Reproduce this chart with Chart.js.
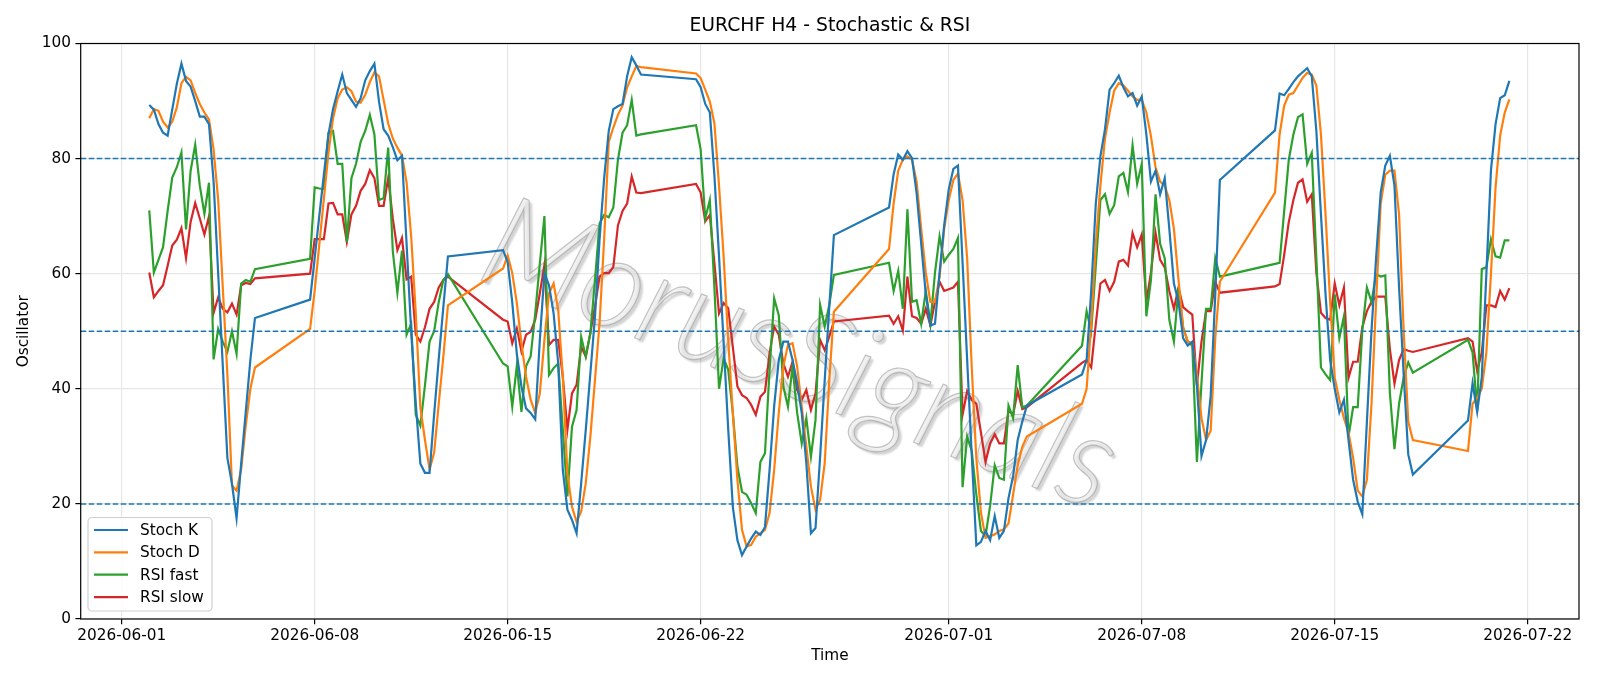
<!DOCTYPE html>
<html>
<head>
<meta charset="utf-8">
<script src="https://cdn.jsdelivr.net/npm/chart.js@4.4.1/dist/chart.umd.min.js"></script>
<style>
  html, body { margin: 0; padding: 0; background: #fff; }
  canvas { display: block; }
</style>
</head>
<body>
<canvas id="myChart" width="1600" height="686"></canvas>
<script>
// H4 bars, 2026-06-02 00:00 to 2026-07-21 08:00 (weekdays + the Sunday 20:00 open bar)
const firstBar = Date.UTC(2026, 5, 2, 0);
const lastBar = Date.UTC(2026, 6, 21, 8);
const origin = Date.UTC(2026, 5, 1);
// date ticks (days since 06-01): 06-01, 06-08, 06-15, 06-22, 07-01, 07-08, 07-15, 07-22
const tickDays = [0, 7, 14, 21, 30, 37, 44, 51];
const levels = [20, 50, 80];

const stochK = [
  // 06-02 .. 06-05
  89.3, 88.5, 86, 84.5, 84, 88.5, 93, 96.5, 93.5, 92.5, 90, 87.3, 87.3, 86, 76, 60, 44, 28, 23.5, 17.5, 27, 36, 45, 52.3,
  // 06-07 .. 06-12
  55.5, 62.7, 70, 77.2, 84.2, 88.6, 91.7, 94.6, 91.4, 90.2, 89, 90.5, 93.6, 95.2, 96.5, 89.9, 85.1, 84, 82,
  79.7, 80.5, 65.2, 50, 37.4, 27, 25.4, 25.4, 35.6, 45.2, 54.2, 63,
  // 06-14 .. 06-19
  64.1, 62, 55, 46, 40.4, 36.6, 35.8, 34.7, 48.5, 60.1, 58, 53.1, 44.4, 25.9, 19, 17.2, 14.9, 23.6, 32.9,
  42.7, 52.5, 66, 76.6, 84.8, 88.6, 89.1, 89.5, 94.3, 97.6, 96.2, 94.6,
  // 06-21 .. 06-26
  93.8, 92.4, 89.5, 88, 77, 63, 48, 33, 19.5, 13.7, 11.1, 12.6, 14, 15.2, 14.6, 16, 25.9, 37, 45,
  48.2, 48.2, 45, 41, 35.8, 27.1, 14.9, 15.8, 28.2, 41.5, 54.3, 66.7,
  // 06-28 .. 07-03
  71.5, 77.3, 80.7, 79.8, 81.3, 80.1, 74, 65.2, 56.4, 51, 51.3, 60.2, 68.4, 74.7, 78.2, 78.8, 62, 45, 28.5,
  12.8, 13.4, 15.3, 13.7, 17.9, 14.1, 15.3, 21, 24.8, 31.1, 34.3, 37.1,
  // 07-05 .. 07-10
  42.5, 45, 57, 72.2, 80.4, 85.1, 92, 93.1, 94.4, 92.4, 90.8, 91.4, 89.2, 90.8, 84.2, 76, 77.9, 73.8, 76.6,
  67.8, 58.3, 55.1, 48.8, 47.5, 48.2, 40.6, 28.3, 31.1, 38.7, 56.4, 76.3,
  // 07-12 .. 07-17
  84.9, 91.3, 91, 92.1, 93.3, 94.3, 95, 95.7, 94.3, 84.8, 70.3, 56.4, 45, 40, 35.9, 38.1, 31.1, 24.2, 20.4,
  18.2, 34.3, 50.1, 62.7, 74.1, 78.8, 80.5, 75.3, 57.6, 42.5, 28.6, 25.1,
  // 07-19 .. 07-21
  34.5, 41, 36, 42, 60, 78, 86, 90.5, 91, 93.5
];

const stochD = [
  87, 88.6, 88.3, 86.4, 85.4, 86.4, 88.9, 93.1, 94.2, 93.6, 91.4, 89.5, 88, 86.8, 81.6, 72.8, 57.6, 42.5, 23.2, 22.3, 26, 33.6, 40, 43.7,
  50.4, 57, 65, 73, 81, 87, 90.5, 92, 92.4, 91.7, 89.9, 89.7, 91.1, 93.3, 95, 94.3, 90.2, 86.1, 83.5,
  81.9, 80.5, 75.9, 66.5, 53.2, 36.8, 31.1, 26, 28.9, 37.4, 45.6, 54.5,
  60.9, 63.2, 60.1, 54.9, 47.9, 42.1, 38.1, 35.8, 39.2, 48.5, 56.6, 58.3, 53.7, 42.1, 25.3, 19.5, 16.9, 18.7, 23.6,
  31.7, 41.5, 51.4, 66, 82.9, 85.4, 87.6, 89.2, 92.4, 94.3, 96.1, 95.9,
  94.8, 94, 92, 89.9, 86.1, 75.3, 63, 48.5, 35.8, 24.2, 15.5, 12.6, 12.9, 14.3, 14.9, 15.5, 18.4, 25.9, 35.8,
  43.9, 47.6, 47.9, 43.9, 36.9, 30, 23, 19, 20.7, 27.1, 41.5, 53.4,
  64.3, 72.2, 77.9, 79.8, 80.4, 79.8, 76, 67.8, 60.2, 55.1, 55.1, 59.5, 67.8, 72.8, 76.3, 77.4, 72.8, 62.7, 43.7,
  27.9, 18.5, 14.1, 14.4, 14.7, 15.3, 15.6, 16.6, 21.6, 26.7, 29.9, 31.7,
  37.4, 40, 51.3, 65.2, 75.3, 83.5, 88, 91.8, 93.1, 92.7, 91.8, 90.8, 90.2, 90.2, 88, 83.9, 78.5, 76, 75.3,
  72.8, 67.8, 58.9, 50.7, 48.2, 47.9, 42.5, 34.9, 31.1, 32.7, 48.8, 58.6,
  74.1, 84.2, 89.2, 91.1, 91.4, 92.7, 94, 94.9, 94.6, 92.7, 84.2, 70.3, 55.1, 41.9, 38.1, 34.9, 32.4, 28, 22.3,
  21.3, 24.2, 37.4, 55.1, 72.2, 77.2, 77.9, 77.9, 70.3, 50.1, 34.3, 31.1,
  29.2, 37.4, 38.4, 40, 46.3, 60, 75, 84, 88, 90.3
];

const rsiFast = [
  71, 60.2, 62.4, 64.6, 70.9, 76.7, 78.5, 81.1, 67.7, 77.9, 82.4, 75.3, 70.4, 75.8, 45.1, 50.4, 48.2, 46.4, 50, 46.1, 58.3, 58.9, 58.6, 60.8,
  62.6, 75, 74.8, 74.7, 84.5, 84.8, 79.1, 79.1, 65.5, 76.6, 79.1, 82.9, 84.8, 87.6, 84.2, 72.8, 73.1, 81.9, 63.9,
  56.7, 64, 49.4, 51.3, 35.5, 33.6, 40.6, 48.2, 50, 55.1, 58.9, 59.9,
  44.4, 43.9, 36.9, 44.1, 36, 43.9, 45.6, 53.1, 61.8, 70, 42.4, 43.6, 44.4, 32.9, 21.3, 33.4, 36.3, 49, 45.6,
  49.7, 58.9, 68.7, 70.2, 69.8, 71.5, 79.8, 84.5, 85.8, 90.2, 84, 84.2,
  85.8, 81.6, 69.6, 72.8, 57.5, 40, 45.3, 43.3, 35.8, 26.5, 22.1, 21.6, 20.1, 18.4, 27.3, 28.8, 43.3, 55.7, 52.8,
  40.4, 36.9, 43.9, 35.8, 30.5, 34.9, 28.2, 34.6, 54.6, 50.8, 54.6, 59.8,
  61.9, 57, 60.5, 53.9, 71.2, 55.1, 55.4, 51.3, 57, 51.3, 60.2, 66.5, 62.1, 63.3, 64.3, 66.2, 22.9, 31.7, 29.2,
  21.6, 15.3, 14.4, 19.7, 26.7, 24.5, 24.2, 37.1, 34.9, 44.1, 36.8, 37.1,
  47.5, 53.5, 50, 61.4, 72.8, 73.8, 70.4, 71.9, 76.9, 77.5, 74.2, 82.3, 75.6, 79.1, 52.6, 58.9, 73.8, 65.2, 62.7,
  52, 48.2, 57.6, 50.7, 48.2, 47.5, 27.3, 41, 53.9, 53.9, 62.7, 59.5,
  61.7, 61.9, 70.9, 79.8, 84.2, 87.2, 87.7, 79.1, 81, 62.7, 43.7, 42.5, 41.5, 56.4, 48.8, 52.6, 31.7, 36.8, 36.8,
  50.1, 57.6, 55.1, 59.9, 59.5, 59.7, 39.3, 29.5, 37.4, 42, 44.6, 42.8,
  48.5, 46.3, 36.2, 60.8, 61.1, 66, 63, 62.8, 65.8, 65.8
];

const rsiSlow = [
  60.2, 55.9, 57, 58, 61.4, 64.9, 65.9, 67.9, 62.7, 69, 72.3, 69.6, 66.8, 70, 53.2, 55.9, 53.9, 53.3, 54.8, 52.9, 58, 58.4, 58.2, 59.2,
  60, 66, 66, 66, 72.2, 72.3, 70.3, 70.3, 65.5, 70.3, 71.8, 74.4, 75.6, 78, 76.6, 71.8, 71.8, 76.6, 69.6,
  64.1, 66.2, 59, 59.5, 49.4, 48.2, 50.7, 53.9, 55.1, 57.6, 58.9, 59.5,
  52, 51.7, 47.9, 50.5, 46.5, 49.4, 49.9, 52, 56.6, 61.5, 47.6, 48.5, 48.5, 42.1, 32.9, 39.2, 40.7, 47.3, 45.6,
  49.7, 54.3, 59.5, 60.1, 60.1, 61.2, 68.4, 70.9, 72.2, 76.9, 74.1, 74,
  75.6, 74.1, 69.1, 70.2, 61.8, 53.1, 54.9, 54, 47.3, 40.4, 38.9, 38.4, 37.2, 35.5, 38.6, 39.5, 46.2, 50.8, 49.4,
  44.4, 42.1, 44.7, 39.8, 38.1, 39.8, 36.3, 39.2, 48.5, 46.7, 49.1, 51.7,
  52.7, 51.3, 52.6, 50.1, 59.5, 52.6, 52.3, 51.3, 53.9, 51, 55.1, 58.6, 57, 57.3, 57.6, 58.6, 35.5, 39.6, 38.1,
  37.4, 32.4, 27.3, 30.5, 32.1, 30.5, 30.5, 36.2, 35.5, 39.6, 36.5, 36.8,
  44.5, 45, 43.7, 51.3, 58.3, 58.9, 57, 58.6, 62.1, 62.4, 61.4, 67.1, 64.6, 66.8, 55.1, 60.2, 67.1, 62.4, 61.1,
  57, 53.9, 57.6, 54.2, 53.5, 52.9, 40.6, 48.2, 53.5, 53.5, 58.6, 56.7,
  57.8, 58.2, 63.3, 69, 72.8, 75.8, 76.4, 72.5, 73.8, 60.2, 53.2, 52.3, 52, 58.3, 54.5, 57.6, 41.9, 44.7, 44.7,
  50.7, 53.5, 55.1, 56, 56, 56, 46.9, 40.9, 45, 46.9, 46.6, 46.4,
  48.8, 48.2, 43.1, 46.3, 54.5, 54.5, 54.2, 57, 55.5, 57.5
];

// bar times in days since 2026-06-01
const times = [];
for (let t = firstBar; t <= lastBar; t += 4 * 3600000) {
  const d = new Date(t);
  const dow = d.getUTCDay();
  const h = d.getUTCHours();
  if ((dow >= 1 && dow <= 5) || (dow === 0 && h === 20)) {
    times.push((t - origin) / 86400000);
  }
}

function dayLabel(v) {
  return new Date(origin + v * 86400000).toISOString().slice(0, 10);
}

function points(arr) {
  return times.map((x, i) => ({ x: x, y: arr[i] }));
}

const FONT = "'DejaVu Sans', sans-serif";

var series = [
  { label: "Stoch K", data: stochK, color: "#1f77b4" },
  { label: "Stoch D", data: stochD, color: "#ff7f0e" },
  { label: "RSI fast", data: rsiFast, color: "#2ca02c" },
  { label: "RSI slow", data: rsiSlow, color: "#d62728" },
];

// title, watermark, reference levels, frame and legend drawn on the canvas
var extras = {
  id: "extras",
  beforeDatasetsDraw(chart) {
    const ctx = chart.ctx;
    const a = chart.chartArea;
    ctx.save();
    ctx.fillStyle = "#000";
    ctx.font = "18.8px " + FONT;
    ctx.textAlign = "center";
    ctx.textBaseline = "middle";
    ctx.fillText("EURCHF H4 - Stochastic & RSI", (a.left + a.right) / 2, 26);

    ctx.beginPath();
    ctx.rect(a.left, a.top, a.right - a.left, a.bottom - a.top);
    ctx.clip();
    ctx.translate(800, 355);
    ctx.rotate(20.5 * Math.PI / 180);
    ctx.font = "italic 300 130px Lato, 'DejaVu Sans', sans-serif";
    const w = ctx.measureText("MorusSignals").width;
    ctx.scale(665 / w, 1);
    ctx.shadowColor = "rgba(0,0,0,0.25)";
    ctx.shadowOffsetX = 3;
    ctx.shadowOffsetY = 3;
    ctx.shadowBlur = 2;
    ctx.fillStyle = "rgba(235,235,235,0.7)";
    ctx.fillText("MorusSignals", 0, 0);
    ctx.shadowColor = "transparent";
    ctx.lineWidth = 1.2;
    ctx.strokeStyle = "rgba(150,150,150,0.55)";
    ctx.strokeText("MorusSignals", 0, 0);
    ctx.restore();
  },
  afterDatasetsDraw(chart) {
    const ctx = chart.ctx;
    const a = chart.chartArea;
    const y = chart.scales.y;
    ctx.save();
    ctx.strokeStyle = "#1f77b4";
    ctx.lineWidth = 1.5;
    ctx.setLineDash([5.6, 2.4]);
    levels.forEach(function (v) {
      const py = y.getPixelForValue(v);
      ctx.beginPath();
      ctx.moveTo(a.left, py);
      ctx.lineTo(a.right, py);
      ctx.stroke();
    });
    ctx.setLineDash([]);
    ctx.strokeStyle = "#000";
    ctx.lineWidth = 1.2;
    ctx.strokeRect(a.left, a.top, a.right - a.left, a.bottom - a.top);

    // legend, lower left
    const bx = 88, by = 517.5, bw = 124, bh = 93.5, r = 4;
    ctx.beginPath();
    ctx.moveTo(bx + r, by);
    ctx.arcTo(bx + bw, by, bx + bw, by + bh, r);
    ctx.arcTo(bx + bw, by + bh, bx, by + bh, r);
    ctx.arcTo(bx, by + bh, bx, by, r);
    ctx.arcTo(bx, by, bx + bw, by, r);
    ctx.closePath();
    ctx.fillStyle = "rgba(255,255,255,0.8)";
    ctx.fill();
    ctx.strokeStyle = "#d0d0d0";
    ctx.lineWidth = 1.2;
    ctx.stroke();
    ctx.font = "15.3px " + FONT;
    ctx.textBaseline = "middle";
    ctx.textAlign = "left";
    series.forEach(function (s, i) {
      const ly = 530 + i * 22.35;
      ctx.strokeStyle = s.color;
      ctx.lineWidth = 2.2;
      ctx.beginPath();
      ctx.moveTo(94, ly);
      ctx.lineTo(128, ly);
      ctx.stroke();
      ctx.fillStyle = "#000";
      ctx.fillText(s.label, 140, ly + 1);
    });
    ctx.restore();
  },
};

var config = {
  type: "line",
  data: {
    datasets: series.map(function (s) {
      return {
        label: s.label,
        data: points(s.data),
        borderColor: s.color,
        backgroundColor: s.color,
        borderWidth: 2.2,
        pointRadius: 0,
        tension: 0,
        fill: false,
      };
    }),
  },
  options: {
    responsive: false,
    animation: false,
    devicePixelRatio: 1,
    layout: { padding: { left: 0, right: 21, top: 43.5, bottom: 0 } },
    plugins: {
      legend: { display: false },
      tooltip: { enabled: false },
      title: { display: false },
    },
    scales: {
      x: {
        type: "linear",
        min: -1.487,
        max: 52.86,
        afterBuildTicks: function (axis) {
          axis.ticks = tickDays.map(function (v) { return { value: v }; });
        },
        afterFit: function (s) { s.height = 67; },
        ticks: {
          callback: function (v) { return dayLabel(v); },
          color: "#000",
          font: { family: FONT, size: 15.3 },
          maxRotation: 0,
          autoSkip: false,
          padding: 2.5,
        },
        grid: { color: "#e6e6e6", lineWidth: 1.2, tickColor: "#000", tickLength: 5.3 },
        border: { display: false },
        title: {
          display: true,
          text: "Time",
          color: "#000",
          font: { family: FONT, size: 15.3, lineHeight: 1.2 },
          padding: { top: 0, bottom: 20.8 },
        },
      },
      y: {
        min: 0,
        max: 100,
        afterFit: function (s) { s.width = 80.7; },
        ticks: {
          stepSize: 20,
          color: "#000",
          font: { family: FONT, size: 15.3 },
          padding: 4.4,
        },
        grid: { color: "#e6e6e6", lineWidth: 1.2, tickColor: "#000", tickLength: 5.3 },
        border: { display: false },
        title: {
          display: true,
          text: "Oscillator",
          color: "#000",
          font: { family: FONT, size: 15.3, lineHeight: 1.2 },
          padding: { top: 15.3, bottom: 0 },
        },
      },
    },
  },
  plugins: [extras],
};

var myChart = new Chart(document.getElementById("myChart"), config);
</script>
</body>
</html>
